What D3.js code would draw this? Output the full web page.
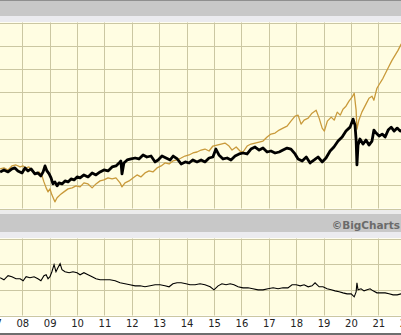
<!DOCTYPE html>
<html>
<head>
<meta charset="utf-8">
<script src="https://cdn.jsdelivr.net/npm/d3@7"></script>
<style>
  body { margin: 0; background: #fff; }
  svg { display: block; font-family: "DejaVu Sans", Verdana, sans-serif; }
</style>
</head>
<body>
<div id="chart"></div>
<script>
// x ticks (one per year) and their labels
const years = [2007, 2008, 2009, 2010, 2011, 2012, 2013, 2014, 2015, 2016, 2017, 2018, 2019, 2020, 2021, 2022];
const yearLabels = ["07", "08", "09", "10", "11", "12", "13", "14", "15", "16", "17", "18", "19", "20", "21", "22"];

// % change of the stock (black, thick)
const stockPct = [
  [2007.19, 2.9], [2007.33, 6.3], [2007.48, 2.9], [2007.62, 8.1], [2007.73, 9.8], [2007.84, 4.6],
  [2007.99, 1.2], [2008.10, 9.8], [2008.21, 4.6], [2008.32, 8.1], [2008.46, -0.5], [2008.57, 1.2],
  [2008.68, -3.9], [2008.76, 2.9], [2008.83, 13.2], [2008.90, 4.6], [2008.98, -0.5], [2009.05, -7.4],
  [2009.12, -17.7], [2009.19, -14.2], [2009.27, -21.1], [2009.34, -15.9], [2009.45, -17.7], [2009.56, -12.5],
  [2009.67, -14.2], [2009.78, -9.1], [2009.89, -10.8], [2010.00, -5.7], [2010.11, -7.4], [2010.25, -2.2],
  [2010.40, -5.7], [2010.55, 1.2], [2010.69, -2.2], [2010.84, 2.9], [2010.98, 6.3], [2011.13, 4.6],
  [2011.28, 11.5], [2011.42, 13.2], [2011.57, 20.1], [2011.60, 21.8], [2011.64, -0.5], [2011.71, 18.3],
  [2011.83, 23.5], [2011.97, 25.2], [2012.12, 26.9], [2012.26, 25.2], [2012.41, 32.1], [2012.55, 28.6],
  [2012.70, 30.3], [2012.85, 20.1], [2012.96, 23.5], [2013.10, 30.3], [2013.25, 26.9], [2013.40, 23.5],
  [2013.51, 30.3], [2013.66, 25.2], [2013.80, 16.6], [2013.95, 20.1], [2014.09, 18.3], [2014.23, 23.5],
  [2014.38, 20.1], [2014.53, 23.5], [2014.67, 20.1], [2014.82, 26.9], [2014.96, 28.6], [2015.07, 42.3],
  [2015.18, 32.1], [2015.33, 25.2], [2015.48, 26.9], [2015.62, 23.5], [2015.77, 30.3], [2015.92, 33.8],
  [2016.06, 35.5], [2016.21, 33.8], [2016.35, 42.3], [2016.50, 45.8], [2016.65, 40.6], [2016.79, 44.0],
  [2016.94, 37.2], [2017.08, 38.9], [2017.23, 35.5], [2017.38, 37.2], [2017.52, 40.6], [2017.67, 44.0],
  [2017.81, 42.3], [2017.96, 33.8], [2018.07, 25.2], [2018.22, 21.8], [2018.37, 28.6], [2018.51, 18.3],
  [2018.66, 23.5], [2018.80, 28.6], [2018.95, 20.1], [2019.09, 26.9], [2019.24, 38.9], [2019.38, 45.8],
  [2019.53, 56.0], [2019.68, 62.9], [2019.82, 73.2], [2019.97, 80.0], [2020.08, 93.8], [2020.15, 83.5],
  [2020.19, 57.8], [2020.22, 14.9], [2020.26, 49.2], [2020.33, 59.5], [2020.44, 50.9], [2020.55, 57.8],
  [2020.66, 49.2], [2020.77, 56.0], [2020.84, 74.9], [2020.92, 69.8], [2021.03, 64.6], [2021.14, 68.0],
  [2021.25, 62.9], [2021.36, 74.9], [2021.47, 80.0], [2021.58, 73.2], [2021.69, 78.3], [2021.80, 73.2],
  [2021.91, 76.6]
];

// % change of the index (gold)
const indexPct = [
  [2007.19, 8.1], [2007.33, 9.8], [2007.48, 6.3], [2007.62, 13.2], [2007.77, 14.9], [2007.92, 11.5],
  [2008.03, 13.2], [2008.14, 9.8], [2008.24, 11.5], [2008.35, 4.6], [2008.50, -0.5], [2008.61, 2.9],
  [2008.72, -3.9], [2008.79, -14.2], [2008.87, -24.5], [2008.94, -31.4], [2009.01, -26.2], [2009.08, -36.5],
  [2009.19, -48.5], [2009.27, -41.6], [2009.38, -36.5], [2009.52, -31.4], [2009.67, -26.2], [2009.82, -24.5],
  [2009.96, -21.1], [2010.11, -22.8], [2010.25, -15.9], [2010.40, -17.7], [2010.55, -24.5], [2010.69, -17.7],
  [2010.84, -12.5], [2010.98, -10.8], [2011.13, -7.4], [2011.28, -9.1], [2011.42, -7.4], [2011.57, -15.9],
  [2011.64, -22.8], [2011.75, -15.9], [2011.90, -12.5], [2012.04, -7.4], [2012.19, -2.2], [2012.33, -5.7],
  [2012.48, 1.2], [2012.63, 4.6], [2012.77, 2.9], [2012.92, 9.8], [2013.07, 13.2], [2013.21, 18.3],
  [2013.36, 16.6], [2013.50, 21.8], [2013.65, 23.5], [2013.80, 26.9], [2013.94, 30.3], [2014.09, 32.1],
  [2014.23, 35.5], [2014.38, 37.2], [2014.53, 40.6], [2014.67, 42.3], [2014.82, 38.9], [2014.96, 47.5],
  [2015.11, 49.2], [2015.26, 50.9], [2015.40, 52.6], [2015.55, 47.5], [2015.66, 40.6], [2015.81, 45.8],
  [2015.95, 38.9], [2016.06, 37.2], [2016.21, 47.5], [2016.35, 50.9], [2016.50, 52.6], [2016.65, 54.3],
  [2016.79, 56.0], [2016.94, 62.9], [2017.08, 68.0], [2017.23, 69.8], [2017.38, 74.9], [2017.52, 78.3],
  [2017.67, 81.8], [2017.81, 90.3], [2017.96, 98.9], [2018.07, 100.6], [2018.18, 85.2], [2018.29, 92.0],
  [2018.44, 95.5], [2018.58, 104.0], [2018.73, 109.2], [2018.84, 95.5], [2018.95, 78.3], [2019.03, 73.2],
  [2019.14, 90.3], [2019.28, 97.2], [2019.39, 92.0], [2019.50, 105.8], [2019.61, 100.6], [2019.71, 110.9],
  [2019.82, 116.0], [2019.93, 124.6], [2020.04, 131.5], [2020.12, 138.3], [2020.19, 109.2], [2020.22, 76.6],
  [2020.29, 92.0], [2020.40, 105.8], [2020.55, 119.5], [2020.66, 129.7], [2020.77, 133.2], [2020.84, 126.3],
  [2020.95, 146.9], [2021.06, 155.5], [2021.17, 164.0], [2021.28, 174.4], [2021.39, 184.6], [2021.50, 194.9],
  [2021.61, 203.5], [2021.72, 212.0], [2021.83, 222.3], [2021.94, 229.2]
];

// relative strength line in the lower panel
const relStrength = [
  [2007.19, 73.5], [2007.33, 69.6], [2007.48, 77.5], [2007.62, 75.5], [2007.77, 71.6], [2007.92, 71.6],
  [2008.03, 67.7], [2008.14, 75.5], [2008.28, 73.5], [2008.43, 75.5], [2008.57, 71.6], [2008.68, 67.7],
  [2008.79, 77.5], [2008.87, 79.4], [2008.94, 71.6], [2009.01, 75.5], [2009.08, 85.3], [2009.16, 99.0],
  [2009.23, 85.3], [2009.30, 93.1], [2009.38, 101.0], [2009.45, 89.2], [2009.56, 85.3], [2009.71, 83.3],
  [2009.85, 85.3], [2010.00, 83.3], [2010.11, 79.4], [2010.25, 83.3], [2010.40, 79.4], [2010.55, 75.5],
  [2010.69, 71.6], [2010.84, 69.6], [2011.02, 69.6], [2011.20, 69.6], [2011.39, 67.7], [2011.57, 63.7],
  [2011.75, 61.8], [2011.93, 59.8], [2012.12, 57.8], [2012.30, 57.8], [2012.48, 55.9], [2012.67, 57.8],
  [2012.85, 59.8], [2013.03, 59.8], [2013.21, 57.8], [2013.36, 55.9], [2013.50, 61.8], [2013.65, 63.7],
  [2013.80, 63.7], [2013.98, 61.8], [2014.12, 59.8], [2014.31, 59.8], [2014.49, 61.8], [2014.67, 59.8],
  [2014.86, 55.9], [2015.00, 50.0], [2015.15, 57.8], [2015.29, 61.8], [2015.44, 59.8], [2015.59, 61.8],
  [2015.73, 59.8], [2015.88, 55.9], [2016.06, 53.9], [2016.24, 53.9], [2016.42, 52.0], [2016.61, 50.0],
  [2016.79, 50.0], [2016.97, 52.0], [2017.16, 53.9], [2017.34, 52.0], [2017.52, 53.9], [2017.70, 53.9],
  [2017.85, 59.8], [2018.00, 59.8], [2018.15, 57.8], [2018.29, 59.8], [2018.44, 55.9], [2018.58, 57.8],
  [2018.69, 63.7], [2018.84, 55.9], [2018.98, 55.9], [2019.13, 52.0], [2019.28, 50.0], [2019.42, 48.0],
  [2019.57, 46.1], [2019.71, 44.1], [2019.86, 42.2], [2020.01, 42.2], [2020.12, 36.3], [2020.19, 46.1],
  [2020.22, 63.7], [2020.26, 50.0], [2020.37, 52.0], [2020.48, 48.0], [2020.59, 50.0], [2020.70, 52.0],
  [2020.81, 48.0], [2020.95, 44.1], [2021.10, 44.1], [2021.25, 44.1], [2021.39, 42.2], [2021.54, 40.2],
  [2021.69, 40.2], [2021.83, 42.2], [2021.94, 42.2]
];

const pctTicks = [-60, -20, 20, 60, 100, 140, 180, 220, 260];
const relTicks = [0, 50, 100, 150];

const width = 401, height = 335;
const gridColor = "#cbc7a2", plotBg = "#fffde2";

const x = d3.scaleLinear().domain([2008, 2021]).range([22.3, 378.3]);
const yPct = d3.scaleLinear().domain([-60, 260]).range([208.5, 22.5]);
const yRel = d3.scaleLinear().domain([0, 150]).range([315.5, 238.5]);

const svg = d3.select("#chart").append("svg")
  .attr("width", width).attr("height", height);

// header bands
svg.append("rect").attr("x", 0).attr("y", 0).attr("width", width).attr("height", 1).attr("fill", "#8f8f8f");
svg.append("rect").attr("x", 0).attr("y", 1).attr("width", width).attr("height", 15).attr("fill", "#c8c8c8");
svg.append("rect").attr("x", 0).attr("y", 16).attr("width", width).attr("height", 6).attr("fill", "#ebebef");

// separator between panels
svg.append("rect").attr("x", 0).attr("y", 209).attr("width", width).attr("height", 5).attr("fill", "#ececec");
svg.append("rect").attr("x", 0).attr("y", 214).attr("width", width).attr("height", 18).attr("fill", "#c8c8c8");
svg.append("rect").attr("x", 0).attr("y", 232).attr("width", width).attr("height", 6).attr("fill", "#ebebef");
svg.append("text")
  .attr("x", 400).attr("y", 228.5)
  .attr("text-anchor", "end")
  .attr("font-size", 10.5).attr("font-weight", "bold")
  .attr("fill", "#6b6b6b")
  .text("\u00a9BigCharts");

// bottom line
svg.append("rect").attr("x", 0).attr("y", 333).attr("width", width).attr("height", 2).attr("fill", "#6e6e6e");

function panel(yScale, ticks, id) {
  const [y1, y0] = yScale.range();
  const g = svg.append("g");
  g.append("rect").attr("x", 0).attr("y", y0).attr("width", width).attr("height", y1 - y0).attr("fill", plotBg);
  g.append("clipPath").attr("id", id)
    .append("rect").attr("x", 0).attr("y", y0).attr("width", width).attr("height", y1 - y0);
  g.append("g").selectAll("line").data(years).join("line")
    .attr("x1", d => Math.round(x(d)) + 0.5).attr("x2", d => Math.round(x(d)) + 0.5)
    .attr("y1", y0).attr("y2", y1)
    .attr("stroke", gridColor);
  g.append("g").selectAll("line").data(ticks).join("line")
    .attr("x1", 0).attr("x2", width)
    .attr("y1", d => Math.round(yScale(d)) + 0.5).attr("y2", d => Math.round(yScale(d)) + 0.5)
    .attr("stroke", gridColor);
  return g;
}

const priceG = panel(yPct, pctTicks, "clipTop");
const relG = panel(yRel, relTicks, "clipBottom");

const linePct = d3.line().x(d => x(d[0])).y(d => yPct(d[1]));
const lineRel = d3.line().x(d => x(d[0])).y(d => yRel(d[1]));

priceG.append("path")
  .datum(indexPct)
  .attr("clip-path", "url(#clipTop)")
  .attr("fill", "none")
  .attr("stroke", "#c99a3b")
  .attr("stroke-width", 1.3)
  .attr("stroke-linejoin", "round")
  .attr("d", linePct);

priceG.append("path")
  .datum(stockPct)
  .attr("clip-path", "url(#clipTop)")
  .attr("fill", "none")
  .attr("stroke", "#000")
  .attr("stroke-width", 2.8)
  .attr("stroke-linejoin", "round")
  .attr("d", linePct);

relG.append("path")
  .datum(relStrength)
  .attr("clip-path", "url(#clipBottom)")
  .attr("fill", "none")
  .attr("stroke", "#000")
  .attr("stroke-width", 1.1)
  .attr("d", lineRel);

// year labels under the lower panel
const xAxis = d3.axisBottom(x)
  .tickValues(years)
  .tickFormat((d, i) => yearLabels[i])
  .tickSize(0)
  .tickPadding(0);

svg.append("g")
  .attr("transform", "translate(0,320)")
  .call(xAxis)
  .call(g => g.select(".domain").remove())
  .call(g => g.selectAll("text")
    .attr("font-family", "DejaVu Sans, Verdana, sans-serif")
    .attr("font-size", 10)
    .attr("fill", "#222"));
</script>
</body>
</html>
